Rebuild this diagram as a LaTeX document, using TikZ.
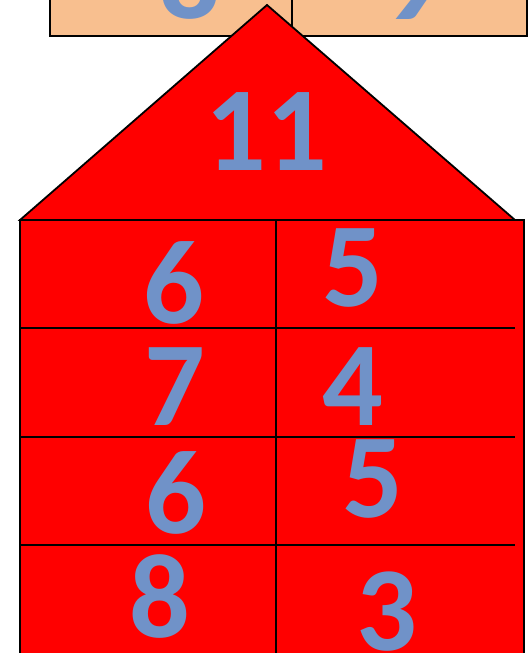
\documentclass[tikz,border=0pt]{standalone}
\usepackage{fontspec}
\newfontfamily\digitfont{Carlito}
\definecolor{peach}{RGB}{248,191,143}
\definecolor{digitblue}{RGB}{112,146,200}
\definecolor{housered}{RGB}{255,0,0}
\begin{document}
\begin{tikzpicture}[x=1pt,y=-1pt,
  box/.style={fill=peach,draw=black,line width=1.8pt},
  housepart/.style={fill=housered,draw=black,line width=1.8pt,line join=miter},
  gridline/.style={draw=black,line width=1.8pt},
  num/.style={inner sep=0pt,text=digitblue,font=\digitfont\bfseries\fontsize{120}{120}\selectfont}]
\useasboundingbox (0,0) rectangle (531,653);
\clip (0,0) rectangle (531,653);
% top boxes
\draw[box] (50,-20) rectangle (292,36);
\draw[box] (292,-20) rectangle (527,36);
\node[num,anchor=south] (t8) at (190,20) {8};
\node[num,anchor=south] (t9) at (414,20) {9};
% roof
\draw[housepart] (20,220) -- (267,5) -- (515,220) -- cycle;
\node[num] (n11) at (266,132) {11};
% body
\draw[housepart] (20,220) rectangle (524,665);
\draw[gridline] (276,220) -- (276,665);
\draw[gridline] (20,328) -- (515,328);
\draw[gridline] (20,437) -- (515,437);
\draw[gridline] (20,545) -- (515,545);
% digits
\node[num] (a1) at (174,283) {6};
\node[num] (b1) at (353,268) {5};
\node[num] (a2) at (175,387) {7};
\node[num] (b2) at (353,387) {4};
\node[num] (a3) at (176,493) {6};
\node[num] (b3) at (373,479) {5};
\node[num] (a4) at (160,597) {8};
\node[num] (b4) at (387,612) {3};
\end{tikzpicture}
\end{document}
